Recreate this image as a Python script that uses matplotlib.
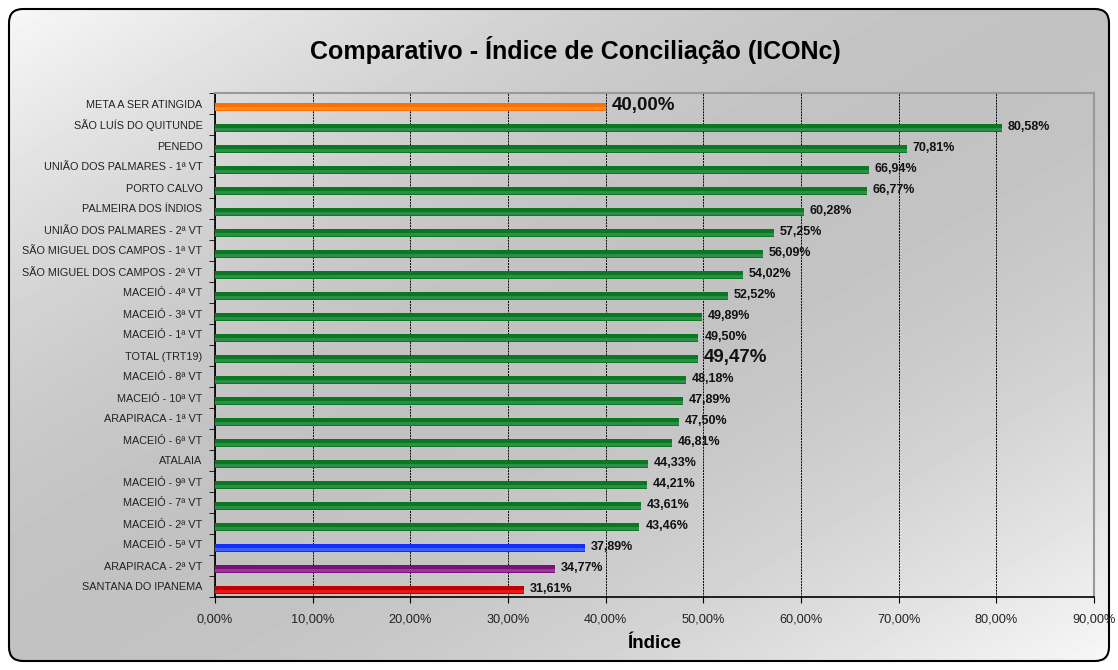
import numpy as np
import matplotlib
matplotlib.use("Agg")
import matplotlib.pyplot as plt
from matplotlib.patches import FancyBboxPatch

plt.rcParams['font.family'] = ['Liberation Sans', 'DejaVu Sans']

# dados (de cima para baixo)
categorias = [
    "META A SER ATINGIDA", "SÃO LUÍS DO QUITUNDE", "PENEDO",
    "UNIÃO DOS PALMARES - 1ª VT", "PORTO CALVO", "PALMEIRA DOS ÍNDIOS",
    "UNIÃO DOS PALMARES - 2ª VT", "SÃO MIGUEL DOS CAMPOS - 1ª VT",
    "SÃO MIGUEL DOS CAMPOS - 2ª VT", "MACEIÓ - 4ª VT", "MACEIÓ - 3ª VT",
    "MACEIÓ - 1ª VT", "TOTAL (TRT19)", "MACEIÓ - 8ª VT", "MACEIÓ - 10ª VT",
    "ARAPIRACA - 1ª VT", "MACEIÓ - 6ª VT", "ATALAIA", "MACEIÓ - 9ª VT",
    "MACEIÓ - 7ª VT", "MACEIÓ - 2ª VT", "MACEIÓ - 5ª VT",
    "ARAPIRACA - 2ª VT", "SANTANA DO IPANEMA",
]
valores = [40.00, 80.58, 70.81, 66.94, 66.77, 60.28, 57.25, 56.09, 54.02,
           52.52, 49.89, 49.50, 49.47, 48.18, 47.89, 47.50, 46.81, 44.33,
           44.21, 43.61, 43.46, 37.89, 34.77, 31.61]
xticks = [0, 10, 20, 30, 40, 50, 60, 70, 80, 90]

# cores: (cor base, brilho)
cores = {"meta": ("#ff7000", "#ff9a30"), "verde": ("#0a7820", "#3a9a5c"),
         "azul": ("#1030ff", "#5070ff"), "roxo": ("#7a107a", "#a050a0"),
         "vermelho": ("#c00000", "#ff2020")}

def cor_da_barra(nome):
    if nome.startswith("META"):
        return cores["meta"]
    if nome == "MACEIÓ - 5ª VT":
        return cores["azul"]
    if nome == "ARAPIRACA - 2ª VT":
        return cores["roxo"]
    if nome == "SANTANA DO IPANEMA":
        return cores["vermelho"]
    return cores["verde"]

def fmt(v):
    return f"{v:.2f}".replace(".", ",") + "%"

W, H = 1118, 670
fig = plt.figure(figsize=(W / 100, H / 100), dpi=100)
fig.patch.set_facecolor("white")

# fundo com degradê diagonal e borda arredondada
bg = fig.add_axes([0, 0, 1, 1], zorder=0)
bg.set_xlim(0, W)
bg.set_ylim(H, 0)
bg.axis("off")
xx, yy = np.meshgrid(np.linspace(0, 1, 300), np.linspace(0, 1, 200))
t = (xx + yy) / 2
grad = 0.97 - 0.21 * np.sin(np.pi * t)
img = bg.imshow(grad, cmap="gray", vmin=0, vmax=1, extent=[8, 1110, 662, 8],
                aspect="auto", interpolation="bilinear")
caixa = FancyBboxPatch((9, 9), 1100, 652, boxstyle="round,pad=0,rounding_size=14",
                       facecolor="none", edgecolor="black", linewidth=1.5,
                       transform=bg.transData)
bg.add_patch(caixa)
img.set_clip_path(caixa)

ax = fig.add_axes([215 / W, 1 - 597 / H, (1094 - 215) / W, (597 - 93) / H], zorder=1)
ax.patch.set_alpha(0)

n = len(categorias)
y = np.arange(n)
offset = 0.18
altura = 0.38
for i, (nome, v) in enumerate(zip(categorias, valores)):
    base, brilho = cor_da_barra(nome)
    ax.barh(y[i] + offset, v, height=altura, color=base, zorder=3)
    ax.barh(y[i] + offset + 0.05, v, height=altura * 0.45, color=brilho,
            alpha=0.7, zorder=3)
    grande = nome.startswith("META") or nome.startswith("TOTAL")
    ax.text(v + 0.6, y[i] + (0.08 if grande else 0.14), fmt(v),
            fontsize=13.5 if grande else 9, fontweight="bold",
            va="center", ha="left", color="#111111", zorder=4)

ax.set_ylim(n - 0.5, -0.5)
ax.set_xlim(0, 90)
ax.set_yticks(y)
ax.set_yticklabels(categorias, fontsize=7.8, color="#222222")
ax.set_yticks(np.arange(n + 1) - 0.5, minor=True)
ax.tick_params(axis="y", which="major", length=0, pad=9)
ax.tick_params(axis="y", which="minor", length=4, direction="out")
ax.set_xticks(xticks)
ax.set_xticklabels([fmt(v) for v in xticks], fontsize=9.2, color="#222222")
ax.tick_params(axis="x", length=4, direction="out", pad=8)
ax.grid(axis="x", color="black", linestyle=(0, (2, 1)), linewidth=0.7, zorder=1)
for s in ["top", "right"]:
    ax.spines[s].set_color("#999999")
    ax.spines[s].set_linewidth(1.5)
ax.spines["left"].set_linewidth(1.2)
ax.spines["bottom"].set_linewidth(1.2)

ax.set_xlabel("Índice", fontsize=13.5, fontweight="bold", labelpad=7)
fig.text(575 / W, 1 - 50 / H, "Comparativo - Índice de Conciliação (ICONc)",
         fontsize=18, fontweight="bold", ha="center", va="center")

fig.savefig("out.png", dpi=100)
